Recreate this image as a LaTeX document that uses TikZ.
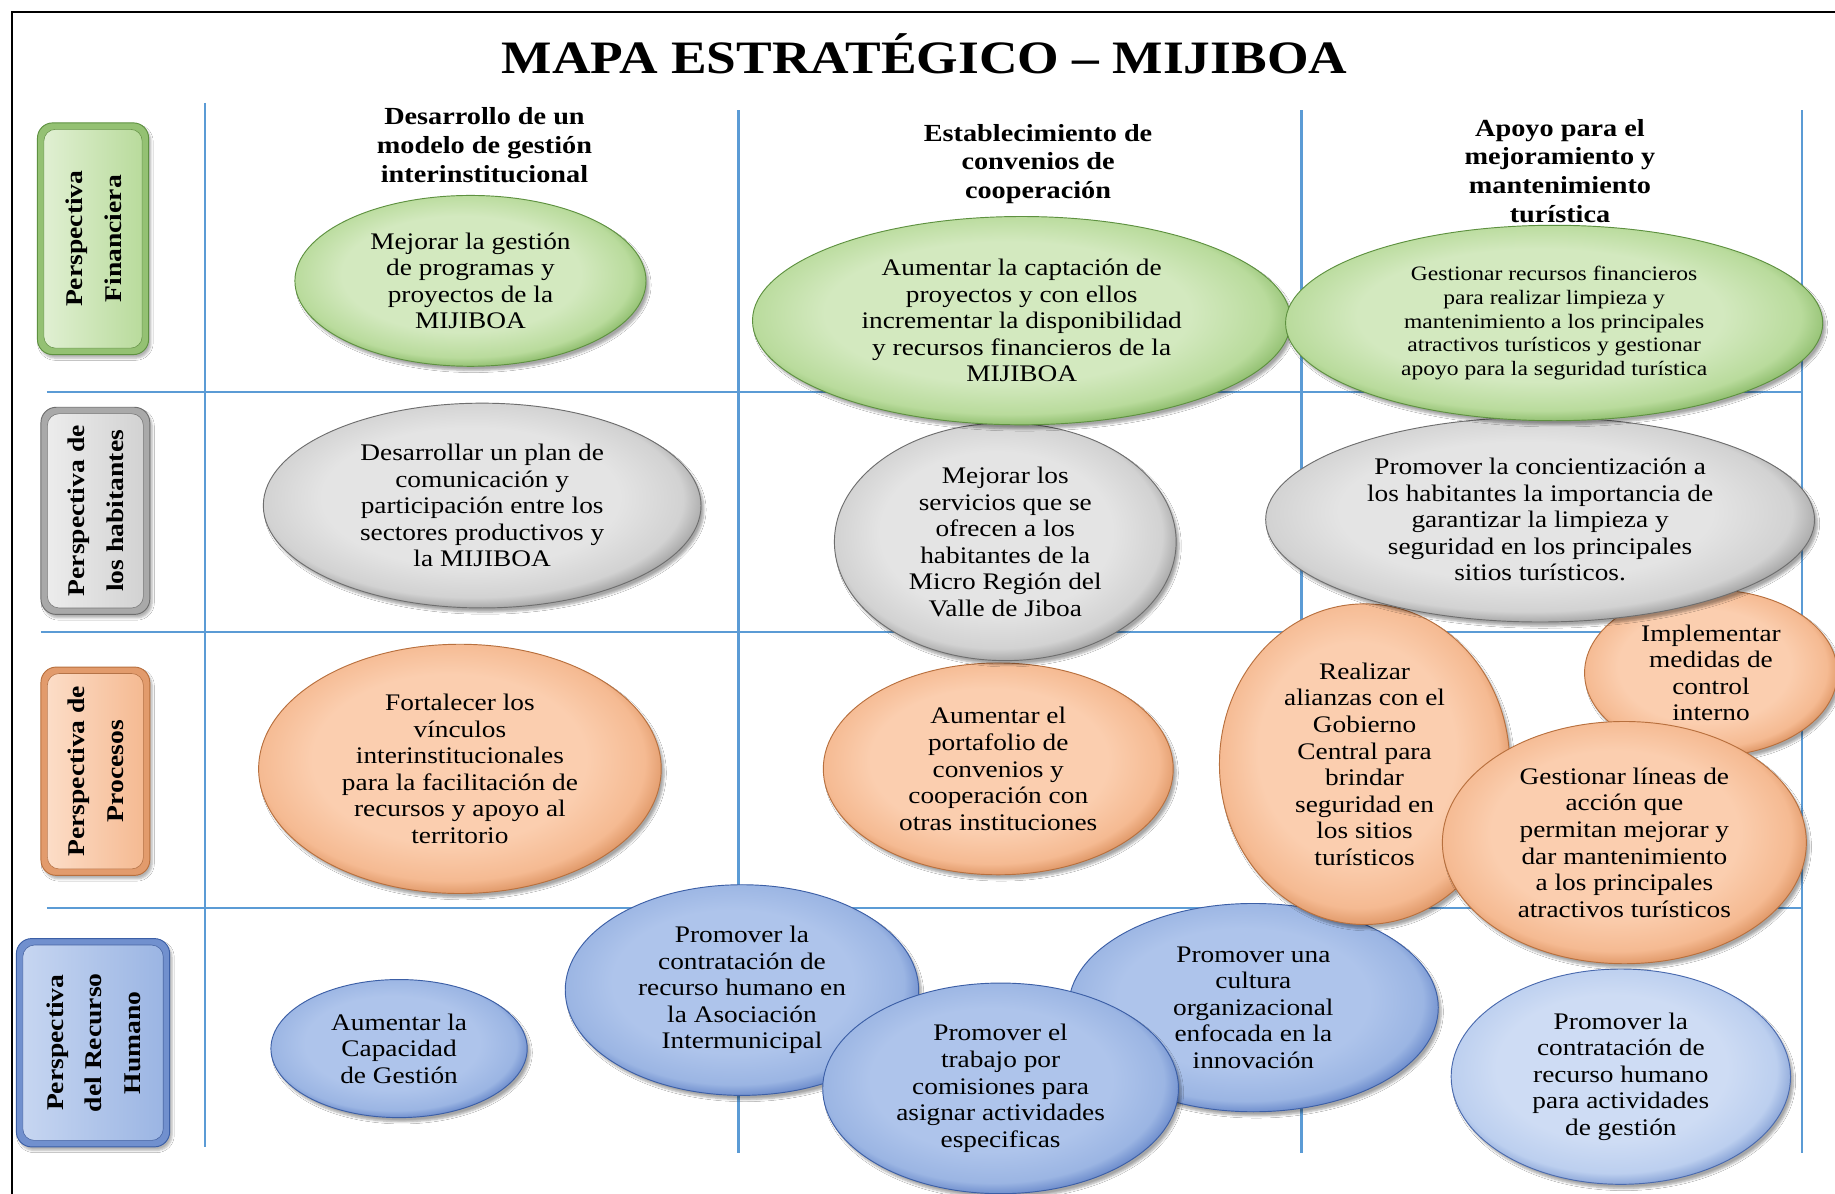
\documentclass[tikz,border=0pt]{standalone}
\usepackage{fontspec}
\setmainfont{Liberation Serif}[FakeStretch=1.15]
\usetikzlibrary{shapes.geometric,shadows.blur}

\definecolor{gIn}{HTML}{D3E9BF}\definecolor{gMid}{HTML}{B9DB9C}\definecolor{gOut}{HTML}{7BB058}\definecolor{gBd}{HTML}{5E9140}
\definecolor{aIn}{HTML}{E4E4E4}\definecolor{aMid}{HTML}{D2D2D2}\definecolor{aOut}{HTML}{8E8E8E}\definecolor{aBd}{HTML}{6E6E6E}
\definecolor{oIn}{HTML}{FBCEAF}\definecolor{oMid}{HTML}{F5BA92}\definecolor{oOut}{HTML}{D58753}\definecolor{oBd}{HTML}{B8703E}
\definecolor{bIn}{HTML}{AEC4EB}\definecolor{bMid}{HTML}{9BB5E3}\definecolor{bOut}{HTML}{5577C0}\definecolor{bBd}{HTML}{3C5FA6}
\definecolor{lIn}{HTML}{CEDCF4}\definecolor{lMid}{HTML}{BCCFEF}\definecolor{lOut}{HTML}{6E8DCA}\definecolor{lBd}{HTML}{4A6AAE}
\definecolor{gridblue}{HTML}{5B9BD5}

\pgfdeclareradialshading{gball}{\pgfpoint{-2bp}{3bp}}{color(0bp)=(gIn); color(17bp)=(gIn); color(24bp)=(gMid); color(28bp)=(gOut); color(50bp)=(gOut)}
\pgfdeclareradialshading{aball}{\pgfpoint{-2bp}{3bp}}{color(0bp)=(aIn); color(17bp)=(aIn); color(24bp)=(aMid); color(28bp)=(aOut); color(50bp)=(aOut)}
\pgfdeclareradialshading{oball}{\pgfpoint{-2bp}{3bp}}{color(0bp)=(oIn); color(17bp)=(oIn); color(24bp)=(oMid); color(28bp)=(oOut); color(50bp)=(oOut)}
\pgfdeclareradialshading{bball}{\pgfpoint{-2bp}{3bp}}{color(0bp)=(bIn); color(17bp)=(bIn); color(24bp)=(bMid); color(28bp)=(bOut); color(50bp)=(bOut)}
\pgfdeclareradialshading{lball}{\pgfpoint{-2bp}{3bp}}{color(0bp)=(lIn); color(17bp)=(lIn); color(24bp)=(lMid); color(28bp)=(lOut); color(50bp)=(lOut)}

\tikzset{
  goal/.style={ellipse, inner sep=0pt, align=center, line width=0.8pt,
    shade, shading=#1ball, draw=#1Bd,
    blur shadow={shadow xshift=2.5pt, shadow yshift=-3.5pt, shadow opacity=35, shadow blur steps=6},
    font=\fontsize{20.3}{22.7}\selectfont},
  sideouter/.style={rectangle, rounded corners=13pt, draw=#1Bd, line width=0.8pt,
    fill=#1Out!60!#1Mid, inner sep=0pt,
    blur shadow={shadow xshift=2pt, shadow yshift=-3pt, shadow opacity=30, shadow blur steps=5}},
  sideinner/.style={rectangle, rounded corners=10pt, draw=#1Out!85!black, line width=0.5pt,
    shade, left color=#1In!70!white, right color=#1Mid, inner sep=0pt},
  sidetext/.style={rotate=90, align=center, inner sep=0pt,
    font=\bfseries\fontsize{20.5}{33}\selectfont},
  head/.style={align=center, inner sep=0pt, font=\bfseries\fontsize{21}{24.5}\selectfont},
  gridline/.style={draw=gridblue, line width=2pt},
}

\begin{document}
\begin{tikzpicture}[x=1pt,y=-1pt]
\useasboundingbox (0,0) rectangle (1568,1020);
\fill[white] (0,0) rectangle (1568,1020);
\draw[line width=1.4pt] (10,1020) -- (10,10) -- (1568,10);

% title
\node[font=\bfseries\fontsize{39.7}{44}\selectfont, inner sep=0pt] (title) at (790,46) {MAPA ESTRATÉGICO – MIJIBOA};

% grid
\draw[gridline] (175,88) -- (175,980);
\draw[gridline] (631,94) -- (631,985);
\draw[gridline] (1112,94) -- (1112,985);
\draw[gridline] (1540,94) -- (1540,985);
\draw[gridline] (40,335) -- (1540,335);
\draw[gridline] (35,540) -- (1540,540);
\draw[gridline] (40,776) -- (1540,776);

% side labels
\node[sideouter=g, minimum width=95pt, minimum height=198pt] (p1) at (79.5,204) {};
\node[sideinner=g, minimum width=84pt, minimum height=187pt] (p1i) at (79.5,204) {};
\node[sidetext] (p1t) at (80,204) {Perspectiva\\Financiera};

\node[sideouter=a, minimum width=93pt, minimum height=177pt] (p2) at (81.5,436.5) {};
\node[sideinner=a, minimum width=82pt, minimum height=166pt] (p2i) at (81.5,436.5) {};
\node[sidetext] (p2t) at (82,436.5) {Perspectiva de\\los habitantes};

\node[sideouter=o, minimum width=93pt, minimum height=178pt] (p3) at (81.5,659) {};
\node[sideinner=o, minimum width=82pt, minimum height=167pt] (p3i) at (81.5,659) {};
\node[sidetext] (p3t) at (82,659) {Perspectiva de\\Procesos};

\node[sideouter=b, minimum width=131pt, minimum height=178pt] (p4) at (79.5,891) {};
\node[sideinner=b, minimum width=120pt, minimum height=167pt] (p4i) at (79.5,891) {};
\node[sidetext] (p4t) at (80,891) {Perspectiva\\del Recurso\\Humano};

% headings
\node[head] (h1) at (414,124) {Desarrollo de un\\modelo de gestión\\interinstitucional};
\node[head] (h2) at (887,140) {Establecimiento de\\convenios de\\cooperación};
\node[head] (h3) at (1333,146) {Apoyo para el\\mejoramiento y\\mantenimiento\\turística};

% row 4: recurso humano
\node[goal=b, minimum width=302pt, minimum height=180pt] (e13) at (634,846) {Promover la\\contratación de\\recurso humano en\\la Asociación\\Intermunicipal};
\node[goal=b, minimum width=316pt, minimum height=178pt] (e14) at (1071,861) {Promover una\\cultura\\organizacional\\enfocada en la\\innovación};
\node[goal=b, minimum width=304pt, minimum height=180pt] (e15) at (855,930) {Promover el\\trabajo por\\comisiones para\\asignar actividades\\especificas};
\node[goal=b, minimum width=219pt, minimum height=118pt] (e12) at (341,896) {Aumentar la\\Capacidad\\de Gestión};
\node[goal=l, minimum width=290pt, minimum height=184pt] (e16) at (1385,920) {Promover la\\contratación de\\recurso humano\\para actividades\\de gestión};

% row 3: procesos
\node[goal=o, minimum width=344pt, minimum height=213pt] (e7) at (393,657) {Fortalecer los\\vínculos\\interinstitucionales\\para la facilitación de\\recursos y apoyo al\\territorio};
\node[goal=o, minimum width=299pt, minimum height=181pt] (e8) at (853,657) {Aumentar el\\portafolio de\\convenios y\\cooperación con\\otras instituciones};
\node[goal=o, minimum width=248pt, minimum height=274pt] (e9) at (1166,653) {Realizar\\alianzas con el\\Gobierno\\Central para\\brindar\\seguridad en\\los sitios\\turísticos};
\node[goal=o, minimum width=216pt, minimum height=142pt] (e10) at (1462,575) {Implementar\\medidas de\\control\\interno};
\node[goal=o, minimum width=311pt, minimum height=207pt] (e11) at (1388,720) {Gestionar líneas de\\acción que\\permitan mejorar y\\dar mantenimiento\\a los principales\\atractivos turísticos};

% row 2: habitantes
\node[goal=a, minimum width=374pt, minimum height=175pt] (e4) at (412,432) {Desarrollar un plan de\\comunicación y\\participación entre los\\sectores productivos y\\la MIJIBOA};
\node[goal=a, minimum width=292pt, minimum height=203pt] (e5) at (859,463) {Mejorar los\\servicios que se\\ofrecen a los\\habitantes de la\\Micro Región del\\Valle de Jiboa};
\node[goal=a, minimum width=469pt, minimum height=175pt] (e6) at (1316,444) {Promover la concientización a\\los habitantes la importancia de\\garantizar la limpieza y\\seguridad en los principales\\sitios turísticos.};

% row 1: financiera
\node[goal=g, minimum width=300pt, minimum height=146pt] (e1) at (402,240) {Mejorar la gestión\\de programas y\\proyectos de la\\MIJIBOA};
\node[goal=g, minimum width=460pt, minimum height=178pt] (e2) at (873,274) {Aumentar la captación de\\proyectos y con ellos\\incrementar la disponibilidad\\y recursos financieros de la\\MIJIBOA};
\node[goal=g, minimum width=459pt, minimum height=167pt, font=\fontsize{17.5}{20.5}\selectfont] (e3) at (1328,276) {Gestionar recursos financieros\\para realizar limpieza y\\mantenimiento a los principales\\atractivos turísticos y gestionar\\apoyo para la seguridad turística};
\end{tikzpicture}
\end{document}
